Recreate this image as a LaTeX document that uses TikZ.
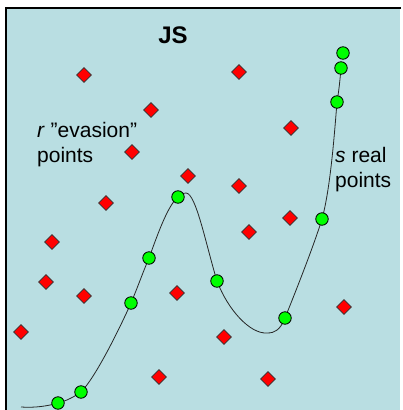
\documentclass[tikz,border=0pt]{standalone}
\usepackage{fontspec}
\setmainfont{Liberation Sans}
\usetikzlibrary{shapes.geometric}
\definecolor{panelblue}{RGB}{185,222,226}
\definecolor{realgreen}{RGB}{0,255,0}
\tikzset{
  evasion/.style={diamond, aspect=1, draw=black!80, fill=red, line width=0.6pt,
    inner sep=0pt, minimum width=15pt, minimum height=15pt},
  real/.style={circle, draw=black, fill=realgreen, line width=0.8pt,
    inner sep=0pt, minimum size=12.5pt},
  caption/.style={align=left, anchor=west, inner sep=0pt,
    font=\fontsize{21}{25}\selectfont},
  curve/.style={black!85, line width=0.8pt},
}

\begin{document}
\begin{tikzpicture}[x=1pt, y=-1pt]
\useasboundingbox (0,0) rectangle (402,410);

% panel
\fill[panelblue] (6,8) rectangle (400,410);
\draw[line width=1.6pt] (6,410) -- (6,8) -- (401,8);

\node[font=\fontsize{24}{28}\selectfont\bfseries] (title) at (173,35) {JS};
\node[caption] (evlabel) at (37,145) {\textit{r} ”evasion”\\points};
\node[caption] (reallabel) at (335,170) {\textit{s} real\\points};

% points the curve passes through
\coordinate (start) at (21,407);
\coordinate (p1) at (58,403);
\coordinate (p2) at (81,392);
\coordinate (p3) at (131,303);
\coordinate (p4) at (149,258);
\coordinate (p5) at (178,197);
\coordinate (peak) at (186,193);
\coordinate (p6) at (217,281);
\coordinate (trough) at (267,333);
\coordinate (p7) at (285,318);
\coordinate (p8) at (322,219);
\coordinate (p9) at (337,102);
\coordinate (p10) at (341,68);
\coordinate (p11) at (343,53);

\draw[curve] (start) .. controls (35,408) and (48,406) .. (p1)
  .. controls (66,401) and (74,397) .. (p2)
  .. controls (95,378) and (118,332) .. (p3)
  .. controls (137,289) and (143,272) .. (p4)
  .. controls (160,228) and (172,193) .. (peak)
  .. controls (196,193) and (206,245) .. (p6)
  .. controls (228,310) and (250,334) .. (trough)
  .. controls (275,333) and (280,330) .. (p7)
  .. controls (295,293) and (313,248) .. (p8)
  .. controls (330,190) and (334,140) .. (p9)
  .. controls (339,90) and (340,80) .. (p10);

% real points
\node[real] (s1) at (p1) {};
\node[real] (s2) at (p2) {};
\node[real] (s3) at (p3) {};
\node[real] (s4) at (p4) {};
\node[real] (s5) at (p5) {};
\node[real] (s6) at (p6) {};
\node[real] (s7) at (p7) {};
\node[real] (s8) at (p8) {};
\node[real] (s9) at (p9) {};
\node[real] (s10) at (p10) {};
\node[real] (s11) at (p11) {};

% evasion points
\node[evasion] (e1) at (84,75) {};
\node[evasion] (e2) at (239,72) {};
\node[evasion] (e3) at (151,110) {};
\node[evasion] (e4) at (291,128) {};
\node[evasion] (e5) at (132,152) {};
\node[evasion] (e6) at (188,176) {};
\node[evasion] (e7) at (239,186) {};
\node[evasion] (e8) at (106,203) {};
\node[evasion] (e9) at (290,218) {};
\node[evasion] (e10) at (249,232) {};
\node[evasion] (e11) at (52,242) {};
\node[evasion] (e12) at (46,282) {};
\node[evasion] (e13) at (84,296) {};
\node[evasion] (e14) at (177,293) {};
\node[evasion] (e15) at (344,307) {};
\node[evasion] (e16) at (21,332) {};
\node[evasion] (e17) at (224,337) {};
\node[evasion] (e18) at (159,377) {};
\node[evasion] (e19) at (268,379) {};
\end{tikzpicture}
\end{document}
